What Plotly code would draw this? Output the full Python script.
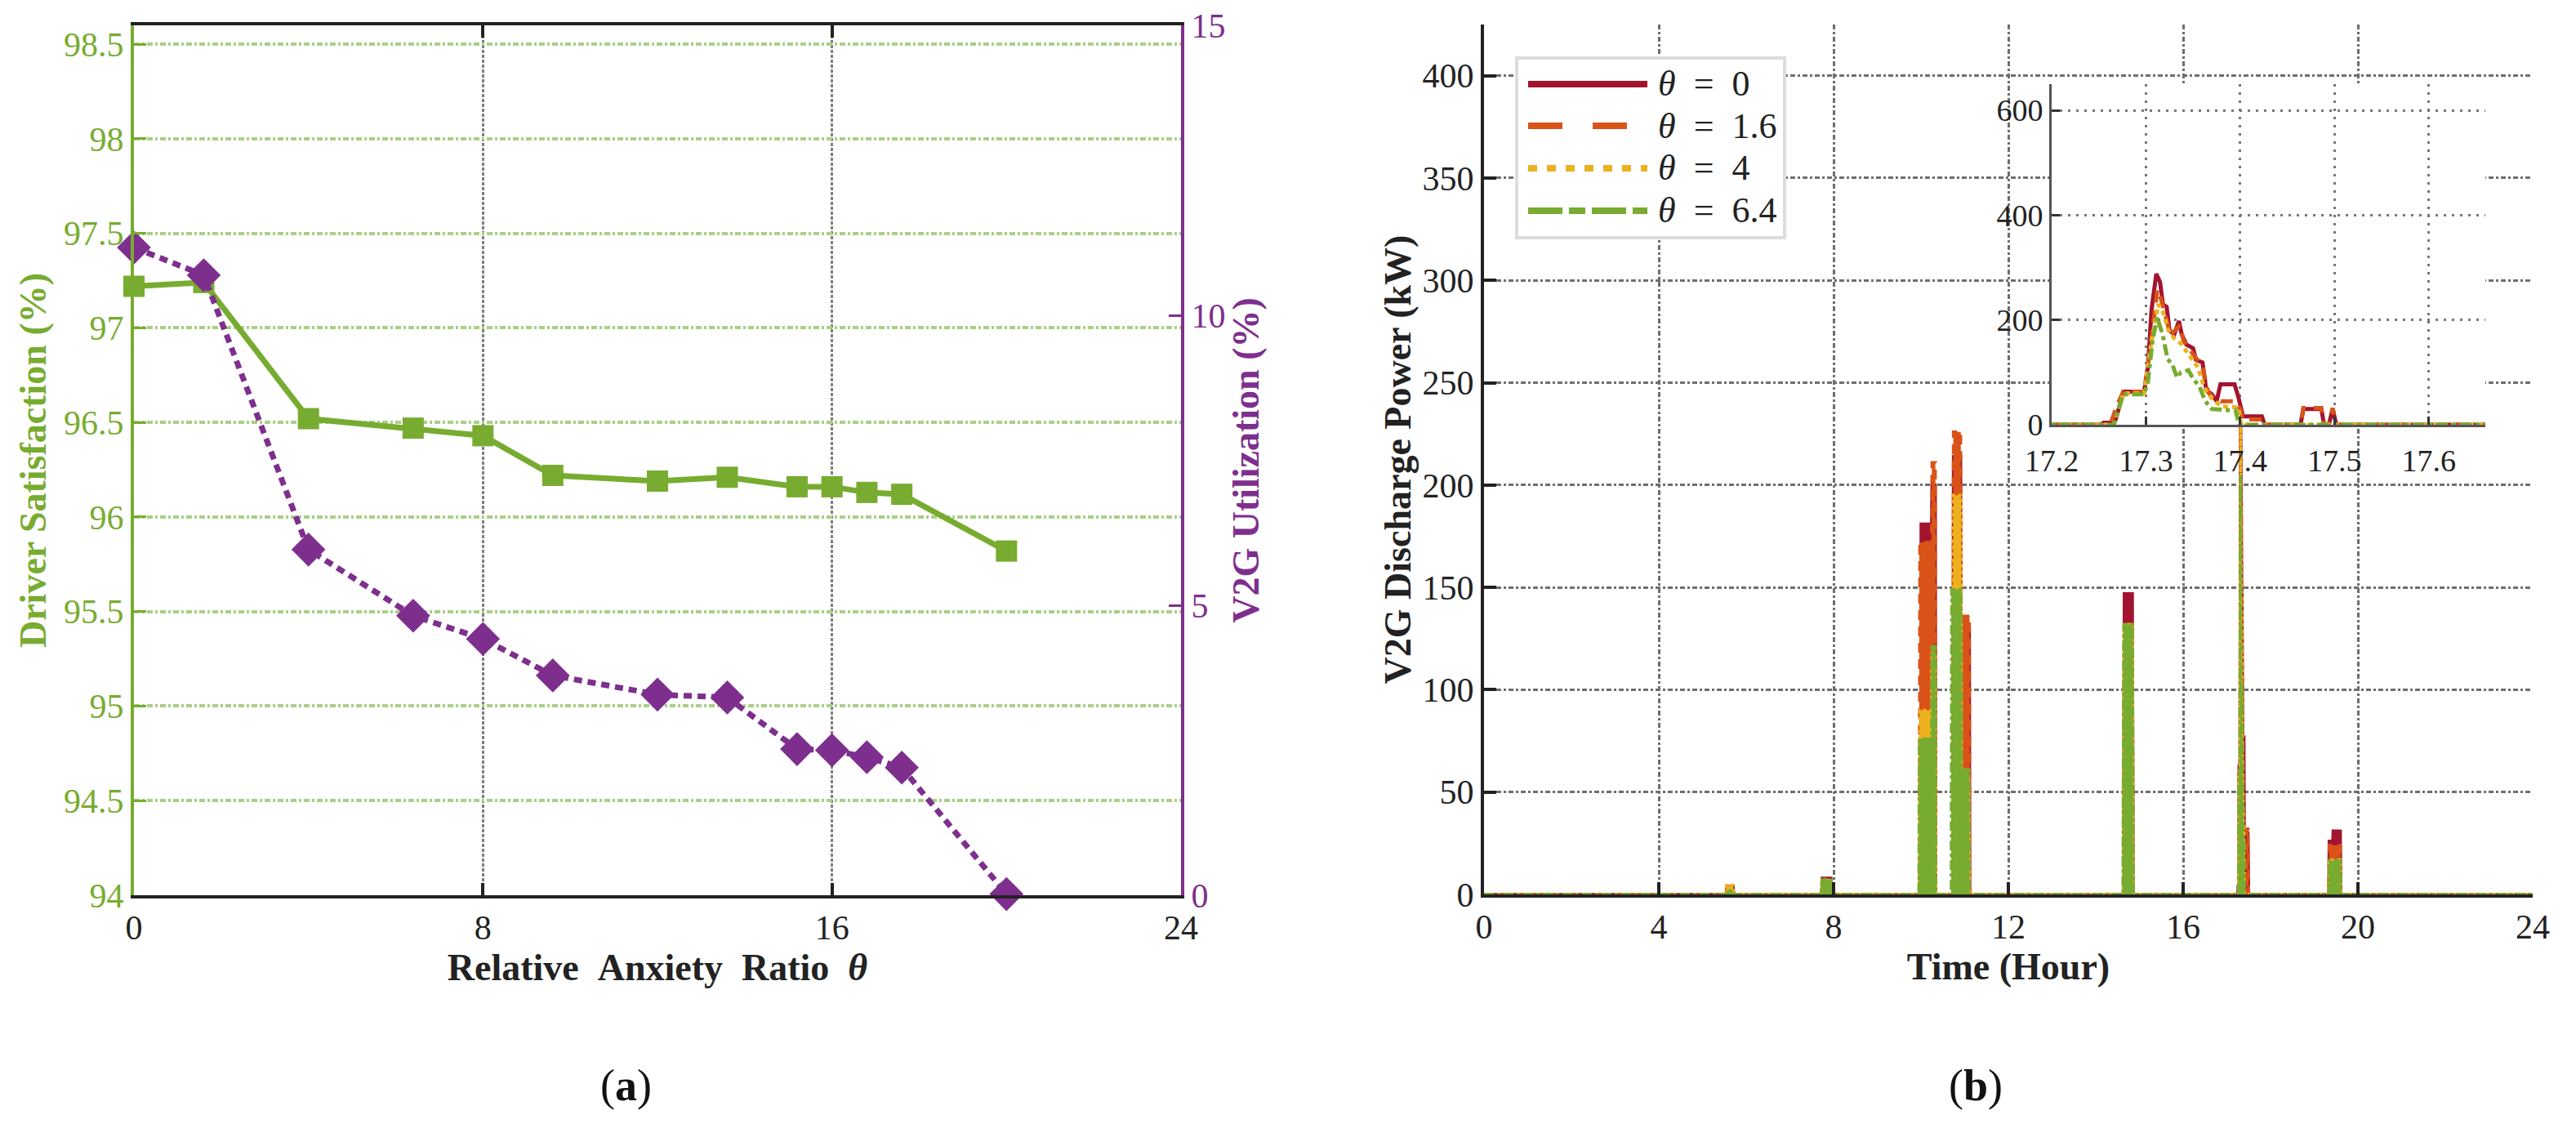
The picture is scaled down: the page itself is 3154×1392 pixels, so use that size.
import plotly.graph_objects as go

# ---------------- data: panel (a) ----------------
theta = [0, 1.6, 4, 6.4, 8, 9.6, 12, 13.6, 15.2, 16, 16.8, 17.6, 20]
satisfaction = [97.22, 97.24, 96.52, 96.47, 96.43, 96.22, 96.19, 96.21, 96.16, 96.16, 96.13, 96.12, 95.82]
utilization = [11.17, 10.69, 5.96, 4.82, 4.42, 3.79, 3.46, 3.41, 2.52, 2.50, 2.38, 2.20, 0.02]
theta_ticks = [0, 8, 16, 24]
sat_ticks = [94, 94.5, 95, 95.5, 96, 96.5, 97, 97.5, 98, 98.5]
sat_ticklabels = ["94", "94.5", "95", "95.5", "96", "96.5", "97", "97.5", "98", "98.5"]
util_ticks = [0, 5, 10, 15]

# ---------------- data: panel (b) ----------------
t_theta0 = [0, 5.54, 5.56, 5.70, 5.72, 7.72, 7.74, 7.94, 7.96,
            9.99, 10.00, 10.24, 10.25, 10.33, 10.34, 10.73, 10.74, 10.91, 10.92, 11.11, 11.12,
            14.63, 14.65, 14.84, 14.86,
            17.252, 17.255, 17.266, 17.268, 17.276, 17.298, 17.302, 17.306, 17.311, 17.315,
            17.318, 17.322, 17.325, 17.330, 17.335, 17.338, 17.343, 17.350, 17.353, 17.360,
            17.364, 17.370, 17.375, 17.379, 17.394, 17.398, 17.403, 17.423, 17.426, 17.464,
            17.467, 17.486, 17.489, 17.494, 17.498, 17.502,
            19.33, 19.34, 19.42, 19.43, 19.60, 19.61, 24]
p_theta0 = [0, 0, 4, 4, 0, 0, 8, 8, 0,
            0, 181, 181, 200, 200, 0, 0, 214, 214, 130, 130, 0,
            0, 147, 147, 0,
            0, 4, 4, 10, 63, 63, 108, 220, 288, 272,
            230, 225, 180, 172, 198, 172, 153, 146, 124, 119,
            66, 58, 45, 77, 77, 53, 16, 16, 0, 0,
            30, 30, 0, 0, 30, 0,
            0, 26, 26, 31, 31, 0, 0]

t_theta16 = [0, 5.54, 5.56, 5.70, 5.72, 7.72, 7.74, 7.94, 7.96,
             9.96, 9.97, 10.24, 10.25, 10.33, 10.34, 10.73, 10.74, 10.91, 10.92, 11.11, 11.12,
             14.63, 14.65, 14.84, 14.86,
             17.262, 17.270, 17.276, 17.298, 17.305, 17.312, 17.316, 17.322, 17.326, 17.332,
             17.336, 17.340, 17.345, 17.352, 17.360, 17.366, 17.372, 17.380, 17.394, 17.400,
             17.403, 17.424, 17.427, 17.464, 17.467, 17.486, 17.489, 17.494, 17.498, 17.502,
             19.33, 19.34, 19.60, 19.61, 24]
p_theta16 = [0, 0, 4, 4, 0, 0, 7, 7, 0,
             0, 172, 172, 211, 211, 0, 0, 226, 226, 136, 136, 0,
             0, 132, 132, 0,
             0, 40, 63, 63, 150, 258, 240, 200, 172, 182,
             190, 160, 148, 130, 110, 62, 50, 45, 45, 30,
             10, 10, 0, 0, 32, 32, 0, 0, 32, 0,
             0, 24, 24, 0, 0]

t_theta4 = [0, 5.53, 5.55, 5.70, 5.72, 7.72, 7.74, 7.94, 7.96,
            9.96, 9.97, 10.24, 10.25, 10.33, 10.34, 10.73, 10.74, 10.92, 10.93, 11.10, 11.11,
            14.63, 14.65, 14.84, 14.86,
            17.266, 17.276, 17.298, 17.306, 17.313, 17.318, 17.324, 17.330, 17.337, 17.345,
            17.355, 17.362, 17.370, 17.380, 17.398, 17.401,
            19.33, 19.34, 19.60, 19.61, 24]
p_theta4 = [0, 0, 4.5, 4.5, 0, 0, 7, 7, 0,
            0, 90, 90, 118, 118, 0, 0, 195, 195, 58, 58, 0,
            0, 132, 132, 0,
            0, 60, 60, 160, 230, 215, 180, 165, 155, 135,
            110, 70, 50, 35, 33, 0,
            0, 17, 17, 0, 0]

t_theta64 = [0, 5.55, 5.57, 5.69, 5.71, 7.71, 7.73, 7.80, 7.95, 7.97,
             9.95, 9.96, 10.24, 10.25, 10.33, 10.34, 10.69, 10.70, 10.92, 10.93, 11.10, 11.11,
             14.62, 14.64, 14.84, 14.86,
             17.266, 17.276, 17.298, 17.302, 17.307, 17.312, 17.318, 17.323, 17.328, 17.333,
             17.337, 17.345, 17.350, 17.357, 17.363, 17.370, 17.395, 17.399,
             19.33, 19.34, 19.60, 19.61, 24]
p_theta64 = [0, 0, 2, 2, 0, 0, 7, 7.5, 7, 0,
             0, 76, 76, 121, 121, 0, 0, 149, 149, 61, 61, 0,
             0, 132, 132, 0,
             0, 58, 58, 80, 160, 205, 170, 125, 115, 90,
             100, 104, 88, 72, 45, 30, 27, 0,
             0, 16.5, 16.5, 0, 0]

series_labels = ["<i>θ</i>\u00a0\u00a0=\u00a0\u00a00", "<i>θ</i>\u00a0\u00a0=\u00a0\u00a01.6",
                 "<i>θ</i>\u00a0\u00a0=\u00a0\u00a04", "<i>θ</i>\u00a0\u00a0=\u00a0\u00a06.4"]
time_ticks = [0, 4, 8, 12, 16, 20, 24]
power_ticks = [0, 50, 100, 150, 200, 250, 300, 350, 400]
inset_xticks = [17.2, 17.3, 17.4, 17.5, 17.6]
inset_xticklabels = ["17.2", "17.3", "17.4", "17.5", "17.6"]
inset_yticks = [0, 200, 400, 600]
time_range = [0, 24]
power_range = [0, 425]
inset_xrange = [17.2, 17.66]
inset_yrange = [0, 650]

# ---------------- styles ----------------
W, H = 3154, 1392
def px(x):
    return x / W
def py(y):
    return 1 - y / H

SERIF = "Liberation Serif"
GREEN = "#77AC30"
LGREEN = "#A9D086"
PURPLE = "#7E2F8E"
BLACK = "#222222"
colors = ["#A2142F", "#D95319", "#EDB120", "#77AC30"]
main_dash = ["solid", "12px,8px", "4px,4px", "12px,4px,4px,4px"]
inset_dash = ["solid", "15px,10px", "6px,5px", "14px,5px,5px,5px"]
legend_dash = ["solid", "42px,37px", "11px,12px", "42px,8px,20px,8px"]

series_t = [t_theta0, t_theta16, t_theta4, t_theta64]
series_p = [p_theta0, p_theta16, p_theta4, p_theta64]

fig = go.Figure()

# panel (a)
fig.add_trace(go.Scatter(x=theta, y=satisfaction, mode="lines+markers",
                         line=dict(color=GREEN, width=7),
                         marker=dict(symbol="square", size=26, color=GREEN),
                         cliponaxis=False, xaxis="x", yaxis="y", showlegend=False))
fig.add_trace(go.Scatter(x=theta, y=utilization, mode="lines+markers",
                         line=dict(color=PURPLE, width=7, dash="10px,7px"),
                         marker=dict(symbol="diamond", size=32, color=PURPLE),
                         cliponaxis=False, xaxis="x", yaxis="y2", showlegend=False))

# panel (b) main
for t, p, c, d in zip(series_t, series_p, colors, main_dash):
    fig.add_trace(go.Scatter(x=t, y=p, mode="lines", line=dict(color=c, width=3.5, dash=d),
                             fill="tozeroy", fillcolor=c,
                             xaxis="x2", yaxis="y3", showlegend=False))
# panel (b) inset
for t, p, c, d in zip(series_t, series_p, colors, inset_dash):
    fig.add_trace(go.Scatter(x=t, y=p, mode="lines", line=dict(color=c, width=5, dash=d),
                             xaxis="x3", yaxis="y4", showlegend=False))

tick42 = dict(family=SERIF, size=42, color=BLACK)

fig.update_layout(
    width=W, height=H, margin=dict(l=0, r=0, t=0, b=0, autoexpand=False),
    paper_bgcolor="white", plot_bgcolor="white", showlegend=False,
    font=dict(family=SERIF, color=BLACK),
    xaxis=dict(domain=[px(164), px(1446)], range=[0, 24], tickvals=theta_ticks, anchor="y",
               automargin=False,
               showline=True, linecolor=BLACK, linewidth=4, mirror="ticks",
               ticks="inside", ticklen=15, tickwidth=4, tickcolor=BLACK,
               showgrid=True, gridcolor="#7F7F7F", gridwidth=3, griddash="4px,2px",
               zeroline=False, tickfont=tick42,
               title=dict(text="<b>Relative\u00a0\u00a0Anxiety\u00a0\u00a0Ratio\u00a0\u00a0<i>θ</i></b>",
                          font=dict(family=SERIF, size=46, color=BLACK), standoff=4)),
    yaxis=dict(domain=[py(1096), py(31)], range=[94, 98.6], tickvals=sat_ticks, ticktext=sat_ticklabels,
               anchor="x", automargin=False, showline=True, linecolor=GREEN, linewidth=4,
               ticks="inside", ticklen=15, tickwidth=3, tickcolor=GREEN,
               showgrid=True, gridcolor=LGREEN, gridwidth=3.5, griddash="7px,3px,3px,3px",
               zeroline=False, tickfont=dict(family=SERIF, size=42, color=GREEN),
               title=dict(text="<b>Driver Satisfaction (%)</b>",
                          font=dict(family=SERIF, size=46, color=GREEN), standoff=8)),
    yaxis2=dict(overlaying="y", side="right", anchor="x", range=[0, 15], tickvals=util_ticks,
                automargin=False, showline=True, linecolor=PURPLE, linewidth=4,
                ticks="inside", ticklen=15, tickwidth=3, tickcolor=PURPLE,
                showgrid=False, zeroline=False,
                tickfont=dict(family=SERIF, size=42, color=PURPLE),
                title=dict(text="<b>V2G Utilization (%)</b>",
                           font=dict(family=SERIF, size=46, color=PURPLE), standoff=2)),
    xaxis2=dict(domain=[px(1817), px(3101)], range=time_range, tickvals=time_ticks, anchor="y3",
                automargin=False, showline=True, linecolor=BLACK, linewidth=4,
                ticks="inside", ticklen=15, tickwidth=4, tickcolor=BLACK,
                showgrid=True, gridcolor="#6E6E6E", gridwidth=3, griddash="6px,3px,3px,3px",
                zeroline=False, tickfont=tick42,
                title=dict(text="<b>Time (Hour)</b>", font=dict(family=SERIF, size=46, color=BLACK),
                           standoff=8)),
    yaxis3=dict(domain=[py(1095), py(30)], range=power_range, tickvals=power_ticks, anchor="x2",
                automargin=False, showline=True, linecolor=BLACK, linewidth=4,
                ticks="inside", ticklen=15, tickwidth=4, tickcolor=BLACK,
                showgrid=True, gridcolor="#6E6E6E", gridwidth=3, griddash="6px,3px,3px,3px",
                zeroline=False, tickfont=tick42,
                title=dict(text="<b>V2G Discharge Power (kW)</b>",
                           font=dict(family=SERIF, size=46, color=BLACK), standoff=0)),
    xaxis3=dict(domain=[px(2512), px(3043)], range=inset_xrange, tickvals=inset_xticks,
                ticktext=inset_xticklabels, anchor="y4", automargin=False,
                showline=True, linecolor="#555555", linewidth=3,
                ticks="inside", ticklen=10, tickwidth=3, tickcolor="#333333",
                showgrid=True, gridcolor="#777777", gridwidth=2.5, griddash="3px,7px",
                zeroline=False, ticklabelstandoff=8,
                tickfont=dict(family=SERIF, size=38, color=BLACK)),
    yaxis4=dict(domain=[py(520), py(103)], range=inset_yrange, tickvals=inset_yticks, anchor="x3",
                automargin=False, showline=True, linecolor="#555555", linewidth=3,
                ticks="inside", ticklen=10, tickwidth=3, tickcolor="#333333",
                showgrid=True, gridcolor="#777777", gridwidth=2.5, griddash="3px,7px",
                zeroline=False, tickfont=dict(family=SERIF, size=38, color=BLACK)),
)

shapes = []
# white background of the inset (covers main grid)
shapes.append(dict(type="rect", xref="x3", yref="y4",
                   x0=inset_xrange[0], x1=inset_xrange[1], y0=inset_yrange[0], y1=inset_yrange[1],
                   fillcolor="white", line=dict(width=0), layer="below"))
# legend box
shapes.append(dict(type="rect", xref="paper", yref="paper",
                   x0=px(1857), x1=px(2185), y0=py(291), y1=py(71),
                   fillcolor="white", line=dict(color="#DCDCDC", width=4), layer="above"))
legend_y = [103, 154, 206, 258]
annotations = []
for lab, c, d, yy in zip(series_labels, colors, legend_dash, legend_y):
    shapes.append(dict(type="line", xref="paper", yref="paper",
                       x0=px(1871), x1=px(2017), y0=py(yy), y1=py(yy),
                       line=dict(color=c, width=8, dash=d), layer="above"))
    annotations.append(dict(text=lab, xref="paper", yref="paper", x=px(2028), y=py(yy),
                            xanchor="left", yanchor="middle", showarrow=False,
                            font=dict(family=SERIF, size=44, color=BLACK)))

annotations.append(dict(text="(<b>a</b>)", xref="paper", yref="paper", x=px(766), y=py(1329),
                        xanchor="center", yanchor="middle", showarrow=False,
                        font=dict(family=SERIF, size=54, color="#111111")))
annotations.append(dict(text="(<b>b</b>)", xref="paper", yref="paper", x=px(2419), y=py(1329),
                        xanchor="center", yanchor="middle", showarrow=False,
                        font=dict(family=SERIF, size=54, color="#111111")))

fig.update_layout(shapes=shapes, annotations=annotations)

fig.write_html("out.html")
